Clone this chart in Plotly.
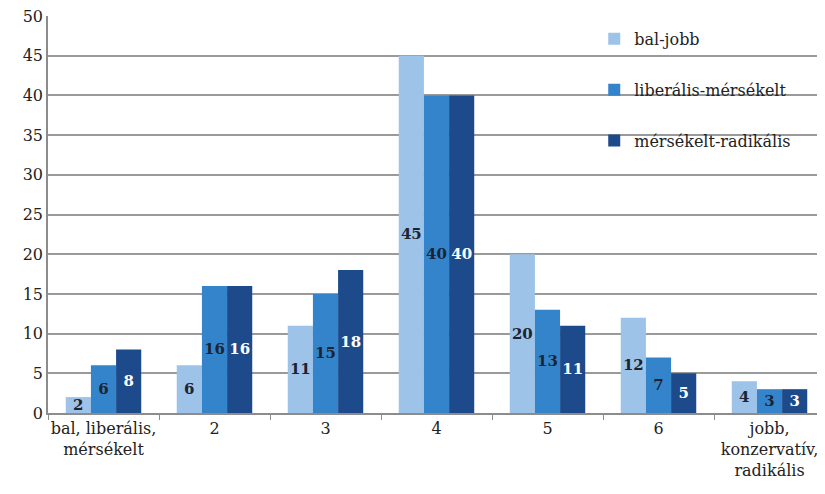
import plotly.graph_objects as go

categories = ["bal, liberális,<br>mérsékelt", "2", "3", "4", "5", "6", "jobb,<br>konzervatív,<br>radikális"]
bal_jobb = [2, 6, 11, 45, 20, 12, 4]
liberalis_mersekelt = [6, 16, 15, 40, 13, 7, 3]
mersekelt_radikalis = [8, 16, 18, 40, 11, 5, 3]
y_max = 50
y_step = 5

series = [
    ("bal-jobb", bal_jobb, "#9dc3e8", "#1c2433"),
    ("liberális-mérsékelt", liberalis_mersekelt, "#3484cc", "#1c2433"),
    ("mérsékelt-radikális", mersekelt_radikalis, "#1d4a8a", "#ffffff"),
]

FONT = "DejaVu Serif"
fig = go.Figure()
for i, (name, vals, color, tcolor) in enumerate(series):
    fig.add_trace(go.Bar(
        x=categories, y=vals, name=name,
        marker=dict(color=color, line=dict(width=0)),
        text=[str(v) for v in vals],
        textposition="inside", insidetextanchor="middle",
        constraintext="none", textangle=0,
        textfont=dict(family=FONT, size=15, color=tcolor, weight="bold"),
        legendgroup=f"g{i}",
    ))

fig.update_layout(
    width=817, height=486,
    margin=dict(l=40, r=0, t=8, b=81, autoexpand=False),
    paper_bgcolor="white", plot_bgcolor="white",
    barmode="group", bargap=0.32, bargroupgap=0,
    font=dict(family=FONT, size=16, color="#222222"),
    legend=dict(
        x=0.703, y=0.985, xanchor="left", yanchor="top",
        bgcolor="rgba(0,0,0,0)", tracegroupgap=27,
        font=dict(family=FONT, size=16, color="#222222"),
        itemwidth=30,
    ),
    showlegend=True,
)
fig.update_xaxes(
    automargin=False, tickangle=0,
    showline=True, linecolor="#8c8c8c", linewidth=1.5,
    ticks="outside", tickson="boundaries", ticklen=5, tickcolor="#8c8c8c",
    tickfont=dict(family=FONT, size=16, color="#222222"),
)
fig.update_yaxes(
    automargin=False, ticklabeloverflow="allow",
    range=[0, y_max], tickmode="linear", tick0=0, dtick=y_step,
    showline=True, linecolor="#8c8c8c", linewidth=1.5,
    showgrid=True, gridcolor="#9a9a9a", gridwidth=1.5,
    ticks="", ticklen=0,
    tickfont=dict(family=FONT, size=16, color="#222222"),
    zeroline=False,
)

fig.write_html("out.html")
